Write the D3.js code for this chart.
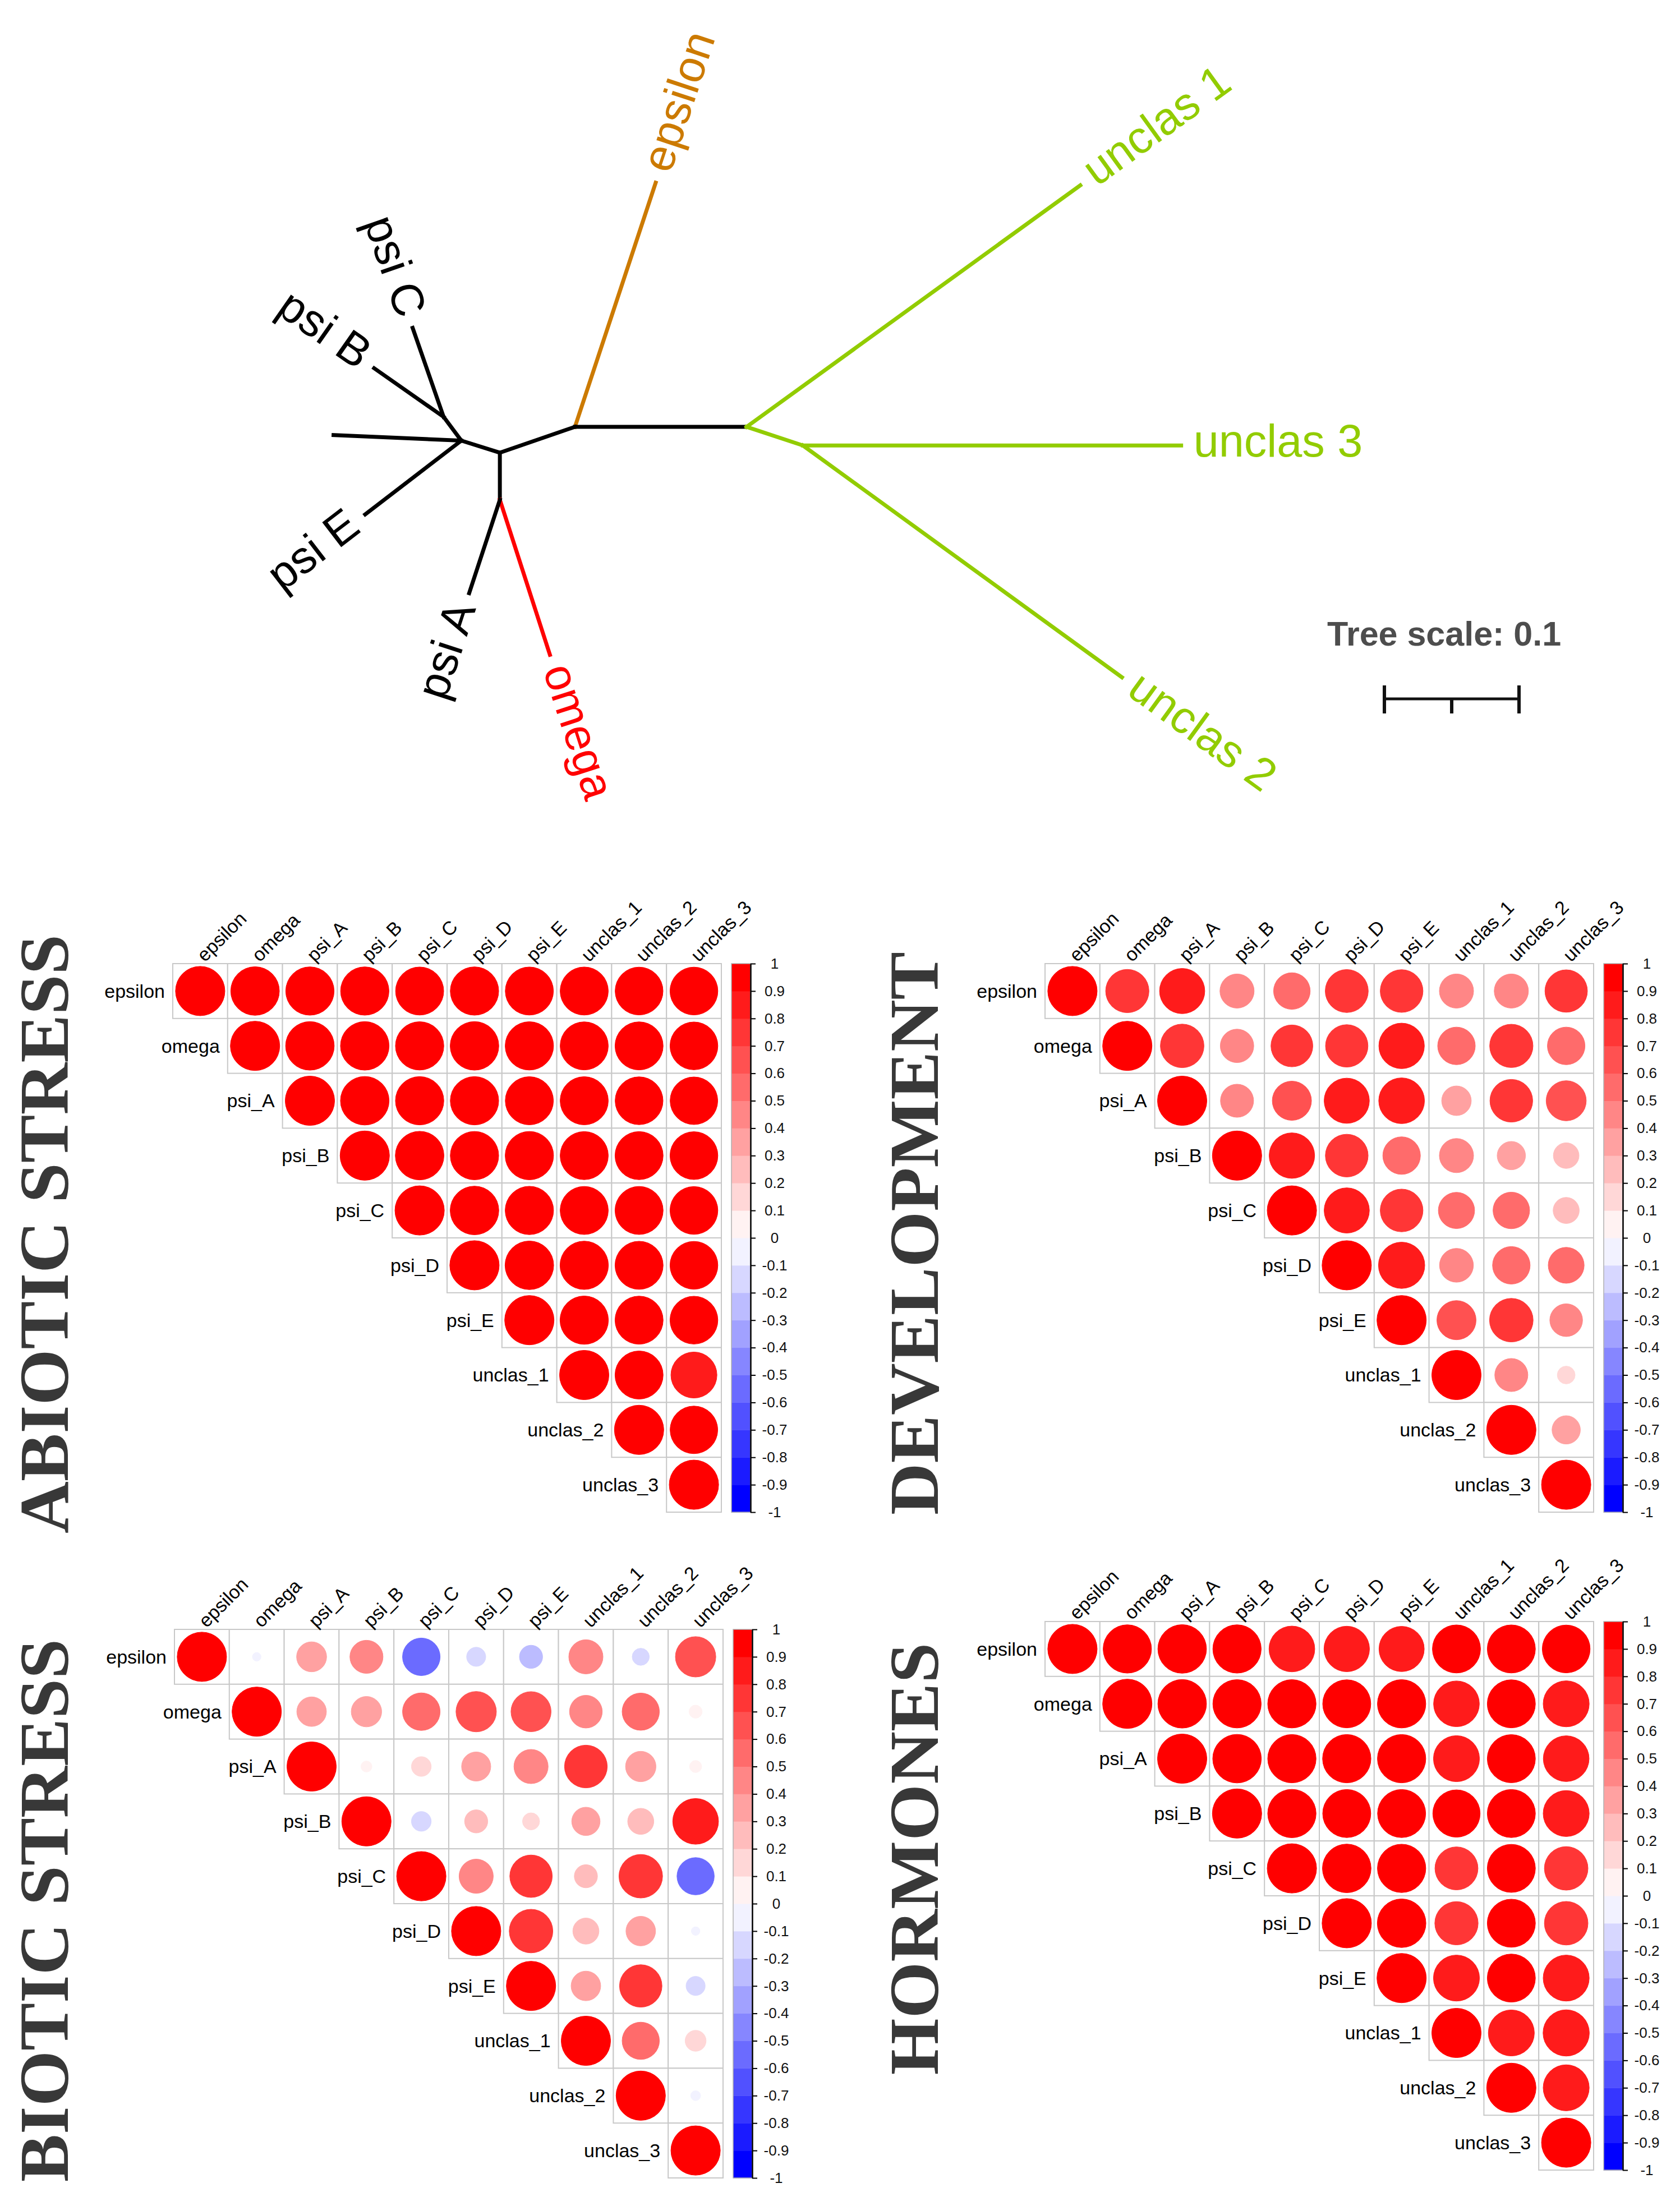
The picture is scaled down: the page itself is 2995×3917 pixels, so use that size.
<!DOCTYPE html>
<html>
<head>
<meta charset="utf-8">
<script src="https://cdn.jsdelivr.net/npm/d3@7"></script>
<style>
  html, body { margin: 0; padding: 0; background: #fff; }
</style>
</head>
<body>
<div id="chart"></div>
<script>

// ---------- data ----------

const GENES = ["epsilon", "omega", "psi_A", "psi_B", "psi_C", "psi_D", "psi_E", "unclas_1", "unclas_2", "unclas_3"];

// upper triangle, row by row (diagonal = 1 is implied)
const ABIOTIC = [
    [0.97, 0.96, 0.96, 0.95, 0.96, 0.95, 0.95, 0.94, 0.94],
    [0.97, 0.97, 0.96, 0.97, 0.96, 0.95, 0.95, 0.94],
    [0.97, 0.96, 0.96, 0.95, 0.95, 0.94, 0.93],
    [0.97, 0.96, 0.96, 0.95, 0.95, 0.94],
    [0.97, 0.96, 0.95, 0.95, 0.94],
    [0.97, 0.96, 0.95, 0.94],
    [0.96, 0.95, 0.94],
    [0.95, 0.87],
    [0.93]
];

const DEVELOPMENT = [
    [0.77, 0.84, 0.48, 0.55, 0.76, 0.75, 0.48, 0.48, 0.74],
    [0.78, 0.46, 0.72, 0.74, 0.85, 0.58, 0.77, 0.58],
    [0.45, 0.63, 0.84, 0.86, 0.36, 0.75, 0.66],
    [0.85, 0.75, 0.58, 0.48, 0.33, 0.27],
    [0.84, 0.75, 0.54, 0.55, 0.28],
    [0.88, 0.47, 0.58, 0.53],
    [0.63, 0.78, 0.44],
    [0.45, 0.13],
    [0.33]
];

const BIOTIC = [
    [-0.03, 0.37, 0.45, -0.58, -0.15, -0.22, 0.48, -0.12, 0.67],
    [0.36, 0.38, 0.58, 0.67, 0.66, 0.44, 0.57, 0.07],
    [0.05, 0.16, 0.35, 0.48, 0.75, 0.38, 0.06],
    [-0.16, 0.22, 0.12, 0.33, 0.28, 0.86],
    [0.48, 0.74, 0.22, 0.78, -0.57],
    [0.78, 0.28, 0.36, -0.03],
    [0.36, 0.74, -0.15],
    [0.57, 0.18],
    [-0.04]
];

const HORMONES = [
    [0.96, 0.97, 0.96, 0.86, 0.85, 0.84, 0.95, 0.95, 0.94],
    [0.97, 0.96, 0.96, 0.95, 0.96, 0.86, 0.95, 0.87],
    [0.97, 0.96, 0.96, 0.96, 0.87, 0.95, 0.86],
    [0.96, 0.95, 0.95, 0.92, 0.95, 0.87],
    [0.97, 0.96, 0.76, 0.95, 0.78],
    [0.97, 0.77, 0.95, 0.78],
    [0.87, 0.95, 0.87],
    [0.87, 0.88],
    [0.87]
];

const BAR_TICKS = [1, 0.9, 0.8, 0.7, 0.6, 0.5, 0.4, 0.3, 0.2, 0.1, 0, -0.1, -0.2, -0.3, -0.4, -0.5, -0.6, -0.7, -0.8, -0.9, -1];

// unrooted tree: branch length (substitutions) and drawing angle (deg)
const TREE = [
    { node: "A",     parent: null },
    { node: "eps",   parent: "A", length: 0.191,  angle: -71.7, label: "epsilon",  clade: "epsilon" },
    { node: "B",     parent: "A", length: 0.1275, angle: 0,     label: null,       clade: "backbone" },
    { node: "u1",    parent: "B", length: 0.306,  angle: -35.9, label: "unclas 1", clade: "unclas" },
    { node: "C",     parent: "B", length: 0.044,  angle: 18.3,  label: null,       clade: "unclas" },
    { node: "u3",    parent: "C", length: 0.281,  angle: 0,     label: "unclas 3", clade: "unclas" },
    { node: "u2",    parent: "C", length: 0.293,  angle: 36,    label: "unclas 2", clade: "unclas" },
    { node: "D",     parent: "A", length: 0.059,  angle: 161,   label: null,       clade: "backbone" },
    { node: "F",     parent: "D", length: 0.035,  angle: 90,    label: null,       clade: "backbone" },
    { node: "om",    parent: "F", length: 0.121,  angle: 72.1,  label: "omega",    clade: "omega" },
    { node: "pA",    parent: "F", length: 0.073,  angle: 108.2, label: "psi A",    clade: "psi" },
    { node: "E",     parent: "D", length: 0.030,  angle: 197.4, label: null,       clade: "backbone" },
    { node: "pE",    parent: "E", length: 0.090,  angle: 142.5, label: "psi E",    clade: "psi" },
    { node: "pD",    parent: "E", length: 0.095,  angle: 182.5, label: null,       clade: "psi" },
    { node: "G",     parent: "E", length: 0.022,  angle: -126.7,label: null,       clade: "backbone" },
    { node: "pB",    parent: "G", length: 0.063,  angle: -145,  label: "psi B",    clade: "psi" },
    { node: "pC",    parent: "G", length: 0.070,  angle: -109.2,label: "psi C",    clade: "psi" }
];

const SCALE_TICKS = [0, 0.05, 0.1];

// ---------- style ----------

const W = 2995, H = 3917;
const CELL = 97.8;
const SANS = "'Liberation Sans', Arial, sans-serif";
const SERIF = "'Liberation Serif', 'Times New Roman', serif";
const CLADE_COLORS = { epsilon: "#cc7a00", omega: "#ff0000", unclas: "#92cc00", psi: "#000000", backbone: "#000000" };
const TREE_STROKE = 7;
const GRID_COLOR = "#c8c8c8";

const svg = d3.select("#chart").append("svg")
    .attr("width", W)
    .attr("height", H)
    .style("display", "block");

svg.append("rect").attr("width", W).attr("height", H).attr("fill", "#fff");

// corrplot-like palette: colorRampPalette(c("blue","white","red"))(20)
const ramp = d3.scaleLinear().domain([-1, 0, 1]).range(["#0000ff", "#ffffff", "#ff0000"]);
const PALETTE = d3.range(20).map(i => ramp(-1 + 2 * i / 19));
const colorOf = d3.scaleQuantize().domain([-1, 1]).range(PALETTE);

/**
 * Draws one upper-triangle correlation panel with its colour bar and title.
 */
function drawCorrPanel(values, cfg) {

    const n = GENES.length;
    const g = svg.append("g");

    const x = d3.scaleBand().domain(GENES).range([cfg.left, cfg.left + n * CELL]);
    const y = d3.scaleBand().domain(GENES).range([cfg.top, cfg.top + n * CELL]);
    const rScale = d3.scaleSqrt().domain([0, 1]).range([0, CELL * 0.45]);

    const cells = [];
    GENES.forEach((gene, i) => {
        cells.push({ row: gene, col: gene, v: 1 });
        (values[i] || []).forEach((v, k) => cells.push({ row: gene, col: GENES[i + 1 + k], v: v }));
    });

    // grid
    g.selectAll(".cell").data(cells).enter().append("rect")
        .attr("class", "cell")
        .attr("x", d => x(d.col))
        .attr("y", d => y(d.row))
        .attr("width", x.bandwidth())
        .attr("height", y.bandwidth())
        .attr("fill", "#fff")
        .attr("stroke", GRID_COLOR)
        .attr("stroke-width", 2);

    // circles
    g.selectAll(".dot").data(cells).enter().append("circle")
        .attr("class", "dot")
        .attr("cx", d => x(d.col) + x.bandwidth() / 2)
        .attr("cy", d => y(d.row) + y.bandwidth() / 2)
        .attr("r", d => rScale(Math.abs(d.v)))
        .attr("fill", d => colorOf(d.v))
        .attr("stroke", d => colorOf(d.v))
        .attr("stroke-width", 1);

    // row labels
    g.selectAll(".rlab").data(GENES).enter().append("text")
        .attr("class", "rlab")
        .attr("x", d => x(d) - 14)
        .attr("y", d => y(d) + y.bandwidth() / 2)
        .attr("dy", "0.35em")
        .attr("text-anchor", "end")
        .style("font-family", SANS)
        .style("font-size", "34px")
        .attr("fill", "#000")
        .text(d => d);

    // column labels
    g.selectAll(".clab").data(GENES).enter().append("text")
        .attr("class", "clab")
        .attr("transform", d => `translate(${x(d) + x.bandwidth() / 2},${cfg.top - 10}) rotate(-45)`)
        .attr("dy", "0.35em")
        .attr("text-anchor", "start")
        .style("font-family", SANS)
        .style("font-size", "34px")
        .attr("fill", "#000")
        .text(d => d);

    // colour bar
    const barX = cfg.left + n * CELL + 18, barW = 34;
    const yBar = d3.scaleLinear().domain([-1, 1]).range([cfg.top + n * CELL, cfg.top]);
    const step = 2 / PALETTE.length;

    g.selectAll(".bin").data(PALETTE).enter().append("rect")
        .attr("class", "bin")
        .attr("x", barX)
        .attr("y", (c, i) => yBar(-1 + step * (i + 1)))
        .attr("width", barW)
        .attr("height", (c, i) => yBar(-1 + step * i) - yBar(-1 + step * (i + 1)) + 0.5)
        .attr("fill", c => c);

    g.append("rect")
        .attr("x", barX).attr("y", cfg.top)
        .attr("width", barW).attr("height", n * CELL)
        .attr("fill", "none")
        .attr("stroke", "#b0b0b0")
        .attr("stroke-width", 1.5);

    const axis = d3.axisRight(yBar)
        .tickValues(BAR_TICKS)
        .tickSize(9)
        .tickSizeOuter(0)
        .tickFormat(d => String(d));

    const ax = g.append("g")
        .attr("transform", `translate(${barX + barW},0)`)
        .call(axis);
    ax.select(".domain").attr("stroke", "#000").attr("stroke-width", 2.5);
    ax.selectAll(".tick line").attr("stroke", "#000").attr("stroke-width", 2);
    ax.selectAll(".tick text")
        .attr("x", 43)
        .attr("text-anchor", "middle")
        .style("font-family", SANS)
        .style("font-size", "26px")
        .attr("fill", "#111");

    // title
    g.append("text")
        .attr("transform", `translate(${cfg.titleX},${cfg.titleY}) rotate(-90)`)
        .attr("text-anchor", "middle")
        .attr("textLength", cfg.titleLen)
        .attr("lengthAdjust", "spacingAndGlyphs")
        .style("font-family", SERIF)
        .style("font-weight", "bold")
        .style("font-size", "125px")
        .attr("fill", "#383838")
        .text(cfg.title);
}

drawCorrPanel(ABIOTIC,     { left: 308,  top: 1718, title: "ABIOTIC STRESS", titleX: 121,  titleY: 2200, titleLen: 1068 });
drawCorrPanel(DEVELOPMENT, { left: 1863, top: 1718, title: "DEVELOPMENT",    titleX: 1672, titleY: 2199, titleLen: 1004 });
drawCorrPanel(BIOTIC,      { left: 311,  top: 2905, title: "BIOTIC STRESS",  titleX: 121,  titleY: 3406, titleLen: 968 });
drawCorrPanel(HORMONES,    { left: 1863, top: 2891, title: "HORMONES",       titleX: 1672, titleY: 3314, titleLen: 771 });

// ---------- tree ----------

const lenScale = d3.scaleLinear().domain([0, 0.1]).range([0, 240]);
const ORIGIN = { x: 1025, y: 761 };

const root = d3.stratify().id(d => d.node).parentId(d => d.parent)(TREE);
root.eachBefore(nd => {
    if (!nd.parent) { nd.px = ORIGIN.x; nd.py = ORIGIN.y; return; }
    const a = nd.data.angle * Math.PI / 180;
    nd.px = nd.parent.px + lenScale(nd.data.length) * Math.cos(a);
    nd.py = nd.parent.py + lenScale(nd.data.length) * Math.sin(a);
});

const treeG = svg.append("g");

treeG.selectAll(".branch").data(root.links()).enter().append("line")
    .attr("class", "branch")
    .attr("x1", d => d.source.px)
    .attr("y1", d => d.source.py)
    .attr("x2", d => d.target.px)
    .attr("y2", d => d.target.py)
    .attr("stroke", d => CLADE_COLORS[d.target.data.clade])
    .attr("stroke-width", TREE_STROKE)
    .attr("stroke-linecap", "square");

const LABEL_GAP = 22;
treeG.selectAll(".leaf").data(root.leaves().filter(d => d.data.label)).enter().append("text")
    .attr("class", "leaf")
    .attr("transform", d => {
        const a = d.data.angle * Math.PI / 180;
        const lx = d.px + LABEL_GAP * Math.cos(a), ly = d.py + LABEL_GAP * Math.sin(a);
        const rot = Math.cos(a) >= 0 ? d.data.angle : d.data.angle + 180;
        return `translate(${lx},${ly}) rotate(${rot})`;
    })
    .attr("text-anchor", d => Math.cos(d.data.angle * Math.PI / 180) >= 0 ? "start" : "end")
    .attr("dy", "0.25em")
    .style("font-family", SANS)
    .style("font-size", "81px")
    .attr("fill", d => CLADE_COLORS[d.data.clade])
    .text(d => d.data.label);

// tree scale
const sb = { x: 2468, y: 1246 };
treeG.append("text")
    .attr("x", 2366)
    .attr("y", 1151)
    .style("font-family", SANS)
    .style("font-weight", "bold")
    .style("font-size", "61px")
    .attr("fill", "#4d4d4d")
    .text("Tree scale: 0.1");

treeG.append("line")
    .attr("x1", sb.x + lenScale(SCALE_TICKS[0]))
    .attr("x2", sb.x + lenScale(SCALE_TICKS[SCALE_TICKS.length - 1]))
    .attr("y1", sb.y).attr("y2", sb.y)
    .attr("stroke", "#111").attr("stroke-width", 5);

treeG.selectAll(".sbtick").data(SCALE_TICKS).enter().append("line")
    .attr("class", "sbtick")
    .attr("x1", d => sb.x + lenScale(d))
    .attr("x2", d => sb.x + lenScale(d))
    .attr("y1", (d, i) => (i === 0 || i === SCALE_TICKS.length - 1) ? sb.y - 24 : sb.y)
    .attr("y2", sb.y + 26)
    .attr("stroke", "#111").attr("stroke-width", 6);

</script>
</body>
</html>
